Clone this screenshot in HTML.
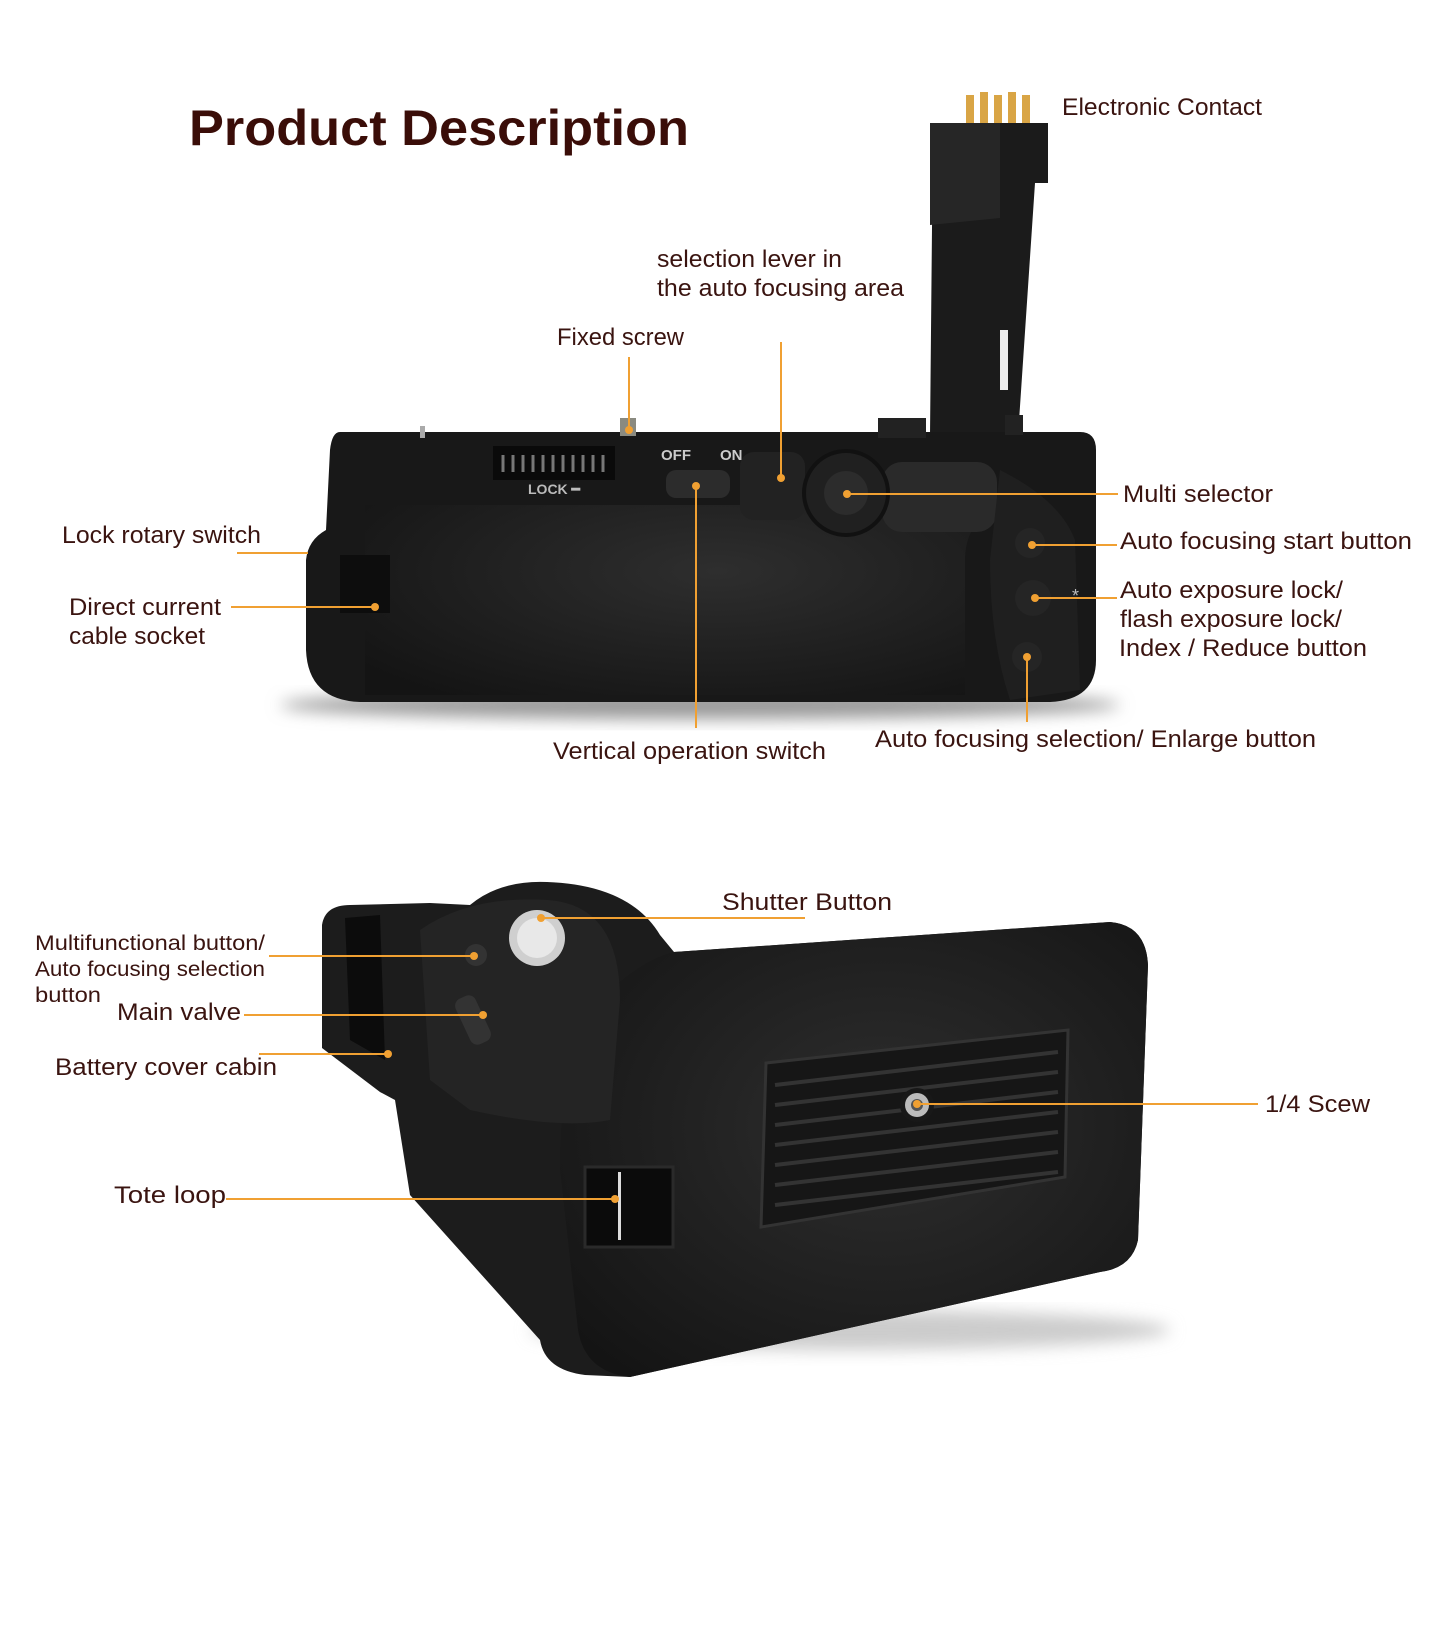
<!DOCTYPE html>
<html><head><meta charset="utf-8"><style>
html,body{margin:0;padding:0;background:#fff}
body{width:1440px;height:1628px;overflow:hidden;position:relative}
svg{position:absolute;left:0;top:0}
text{font-family:"Liberation Sans",sans-serif;fill:#3a1410}
</style></head><body>
<svg width="1440" height="1628" viewBox="0 0 1440 1628">
<defs>
<radialGradient id="g1" cx="0.55" cy="0.45" r="0.7"><stop offset="0" stop-color="#2e2e2e"/><stop offset="1" stop-color="#141414"/></radialGradient>
<filter id="sh" x="-20%" y="-20%" width="140%" height="160%"><feGaussianBlur stdDeviation="8"/></filter>
</defs>

<text x="189" y="145" font-size="50" font-weight="bold" style="fill:#3a0d08" textLength="500" lengthAdjust="spacingAndGlyphs">Product Description</text>

<!-- top grip: tower -->
<g fill="#d9a545"><rect x="966" y="95" width="8" height="28"/><rect x="980" y="92" width="8" height="31"/><rect x="994" y="95" width="8" height="28"/><rect x="1008" y="92" width="8" height="31"/><rect x="1022" y="95" width="8" height="28"/></g>
<path d="M933 123 L1048 123 L1048 183 L1035 183 L1018 436 L930 436 Z" fill="#1b1b1b"/>
<path d="M930 123 L1000 123 L1000 218 L930 225 Z" fill="#262626"/>
<rect x="1000" y="330" width="8" height="60" fill="#eee"/>
<ellipse cx="700" cy="705" rx="420" ry="14" fill="#999" filter="url(#sh)"/>
<path d="M340 432 L1080 432 Q1096 432 1096 450 L1096 660 Q1096 700 1050 702 L360 702 Q308 700 306 650 L306 560 Q308 540 326 530 L330 450 Q332 432 340 432 Z" fill="#181818"/>
<path d="M365 505 L950 505 L960 470 L1000 470 L1005 500 Q965 520 965 560 L965 695 L365 695 Z" fill="url(#g1)"/>
<rect x="882" y="462" width="115" height="70" rx="20" fill="#2a2a2a"/>
<rect x="493" y="446" width="122" height="34" fill="#0a0a0a"/>
<g stroke="#777" stroke-width="3"><line x1="503" y1="455" x2="503" y2="472"/><line x1="513" y1="455" x2="513" y2="472"/><line x1="523" y1="455" x2="523" y2="472"/><line x1="533" y1="455" x2="533" y2="472"/><line x1="543" y1="455" x2="543" y2="472"/><line x1="553" y1="455" x2="553" y2="472"/><line x1="563" y1="455" x2="563" y2="472"/><line x1="573" y1="455" x2="573" y2="472"/><line x1="583" y1="455" x2="583" y2="472"/><line x1="593" y1="455" x2="593" y2="472"/><line x1="603" y1="455" x2="603" y2="472"/></g>
<text x="528" y="494" font-size="14" style="fill:#bbb" font-weight="bold">LOCK ━</text>
<text x="661" y="460" font-size="15" style="fill:#ccc" font-weight="bold">OFF</text>
<text x="720" y="460" font-size="15" style="fill:#ccc" font-weight="bold">ON</text>
<rect x="666" y="470" width="64" height="28" rx="10" fill="#2c2c2c"/>
<rect x="740" y="452" width="65" height="68" rx="14" fill="#222"/>
<circle cx="846" cy="493" r="42" fill="#202020" stroke="#111" stroke-width="4"/>
<circle cx="846" cy="493" r="22" fill="#2c2c2c"/>
<rect x="878" y="418" width="48" height="20" fill="#222"/>
<rect x="1005" y="415" width="18" height="20" fill="#222"/>
<rect x="340" y="555" width="50" height="58" fill="#0d0d0d"/>
<path d="M1000 470 Q1060 500 1075 540 L1080 690 L1010 700 Q990 640 990 560 Z" fill="#1f1f1f"/>
<circle cx="1030" cy="543" r="15" fill="#252525"/><circle cx="1033" cy="598" r="18" fill="#252525"/><circle cx="1027" cy="657" r="15" fill="#252525"/>
<text x="1072" y="602" font-size="18" style="fill:#bbb">*</text>
<rect x="420" y="426" width="5" height="12" fill="#aaa"/>
<rect x="620" y="418" width="16" height="18" fill="#8a8a80"/>

<!-- bottom grip -->
<ellipse cx="850" cy="1330" rx="320" ry="20" fill="#ccc" filter="url(#sh)"/>
<path d="M322 925 Q325 905 350 905 L430 903 L470 905 Q500 880 547 882 Q630 885 660 935 L674 952 L1110 922 Q1146 925 1148 965 L1138 1240 Q1132 1268 1100 1272 L630 1377 L585 1375 Q545 1370 540 1340 L410 1195 L395 1100 L380 1092 L322 1048 Z" fill="#1c1c1c"/>
<path d="M674 952 L1110 922 Q1146 925 1148 965 L1138 1240 Q1132 1268 1100 1272 L630 1377 Q585 1372 578 1330 L560 1170 Q560 1050 600 1000 Q640 960 674 952 Z" fill="url(#g1)"/>
<path d="M345 918 L380 915 L385 1060 L350 1040 Z" fill="#0c0c0c"/>
<path d="M420 930 Q470 895 548 900 Q620 905 620 1000 L610 1120 Q560 1130 470 1110 L430 1080 Z" fill="#242424"/>
<circle cx="537" cy="938" r="28" fill="#cfcfcf"/><circle cx="537" cy="938" r="20" fill="#e8e8e8"/>
<circle cx="476" cy="955" r="11" fill="#333"/>
<rect x="462" y="995" width="22" height="50" rx="8" fill="#333" transform="rotate(-25 473 1020)"/>
<path d="M766 1063 L1068 1030 L1065 1177 L761 1227 Z" fill="#161616" stroke="#333" stroke-width="3"/>
<g stroke="#333" stroke-width="4"><line x1="775" y1="1085" x2="1058" y2="1052"/><line x1="775" y1="1105" x2="1058" y2="1072"/><line x1="775" y1="1125" x2="1058" y2="1092"/><line x1="775" y1="1145" x2="1058" y2="1112"/><line x1="775" y1="1165" x2="1058" y2="1132"/><line x1="775" y1="1185" x2="1058" y2="1152"/><line x1="775" y1="1205" x2="1058" y2="1172"/></g>
<circle cx="917" cy="1105" r="17" fill="#181818"/><circle cx="917" cy="1105" r="12" fill="#bbb"/><circle cx="917" cy="1105" r="6" fill="#555"/>
<rect x="585" y="1167" width="88" height="80" fill="#0b0b0b" stroke="#2a2a2a" stroke-width="3"/>
<rect x="618" y="1172" width="3" height="68" fill="#ddd"/>

<g stroke="#f0a032" stroke-width="2" fill="none">
<line x1="629" y1="357" x2="629" y2="430"/>
<line x1="781" y1="342" x2="781" y2="478"/>
<line x1="696" y1="486" x2="696" y2="728"/>
<line x1="237" y1="553" x2="308" y2="553"/>
<line x1="231" y1="607" x2="375" y2="607"/>
<line x1="847" y1="494" x2="1118" y2="494"/>
<line x1="1032" y1="545" x2="1117" y2="545"/>
<line x1="1035" y1="598" x2="1117" y2="598"/>
<line x1="1027" y1="657" x2="1027" y2="722"/>
<line x1="541" y1="918" x2="805" y2="918"/>
<line x1="269" y1="956" x2="474" y2="956"/>
<line x1="244" y1="1015" x2="483" y2="1015"/>
<line x1="259" y1="1054" x2="388" y2="1054"/>
<line x1="226" y1="1199" x2="615" y2="1199"/>
<line x1="917" y1="1104" x2="1258" y2="1104"/>
</g>
<g fill="#f0a032">
<circle cx="629" cy="430" r="4"/><circle cx="781" cy="478" r="4"/><circle cx="696" cy="486" r="4"/><circle cx="375" cy="607" r="4"/><circle cx="847" cy="494" r="4"/><circle cx="1032" cy="545" r="4"/><circle cx="1035" cy="598" r="4"/><circle cx="1027" cy="657" r="4"/><circle cx="541" cy="918" r="4"/><circle cx="474" cy="956" r="4"/><circle cx="483" cy="1015" r="4"/><circle cx="388" cy="1054" r="4"/><circle cx="615" cy="1199" r="4"/><circle cx="917" cy="1104" r="4"/>
</g>

<g font-size="24" lengthAdjust="spacingAndGlyphs">
<text x="1062" y="115" textLength="200" lengthAdjust="spacingAndGlyphs">Electronic Contact</text>
<text x="657" y="267" textLength="185" lengthAdjust="spacingAndGlyphs">selection lever in</text>
<text x="657" y="296" textLength="247" lengthAdjust="spacingAndGlyphs">the auto focusing area</text>
<text x="557" y="345" textLength="127" lengthAdjust="spacingAndGlyphs">Fixed screw</text>
<text x="62" y="543" textLength="199" lengthAdjust="spacingAndGlyphs">Lock rotary switch</text>
<text x="69" y="615" textLength="152" lengthAdjust="spacingAndGlyphs">Direct current</text>
<text x="69" y="644" textLength="136" lengthAdjust="spacingAndGlyphs">cable socket</text>
<text x="1123" y="502" textLength="150" lengthAdjust="spacingAndGlyphs">Multi selector</text>
<text x="1120" y="549" textLength="292" lengthAdjust="spacingAndGlyphs">Auto focusing start button</text>
<text x="1120" y="598" textLength="223" lengthAdjust="spacingAndGlyphs">Auto exposure lock/</text>
<text x="1120" y="627" textLength="222" lengthAdjust="spacingAndGlyphs">flash exposure lock/</text>
<text x="1119" y="656" textLength="248" lengthAdjust="spacingAndGlyphs">Index / Reduce button</text>
<text x="553" y="759" textLength="273" lengthAdjust="spacingAndGlyphs">Vertical operation switch</text>
<text x="875" y="747" textLength="441" lengthAdjust="spacingAndGlyphs">Auto focusing selection/ Enlarge button</text>
<text x="722" y="910" textLength="170" lengthAdjust="spacingAndGlyphs">Shutter Button</text>
<text x="117" y="1020" textLength="124" lengthAdjust="spacingAndGlyphs">Main valve</text>
<text x="55" y="1075" textLength="222" lengthAdjust="spacingAndGlyphs">Battery cover cabin</text>
<text x="114" y="1203" textLength="112" lengthAdjust="spacingAndGlyphs">Tote loop</text>
<text x="1265" y="1112" textLength="105" lengthAdjust="spacingAndGlyphs">1/4 Scew</text>
</g>
<g font-size="21">
<text x="35" y="950" textLength="230" lengthAdjust="spacingAndGlyphs">Multifunctional button/</text>
<text x="35" y="976" textLength="230" lengthAdjust="spacingAndGlyphs">Auto focusing selection</text>
<text x="35" y="1002" textLength="66" lengthAdjust="spacingAndGlyphs">button</text>
</g>
</svg>
</body></html>
